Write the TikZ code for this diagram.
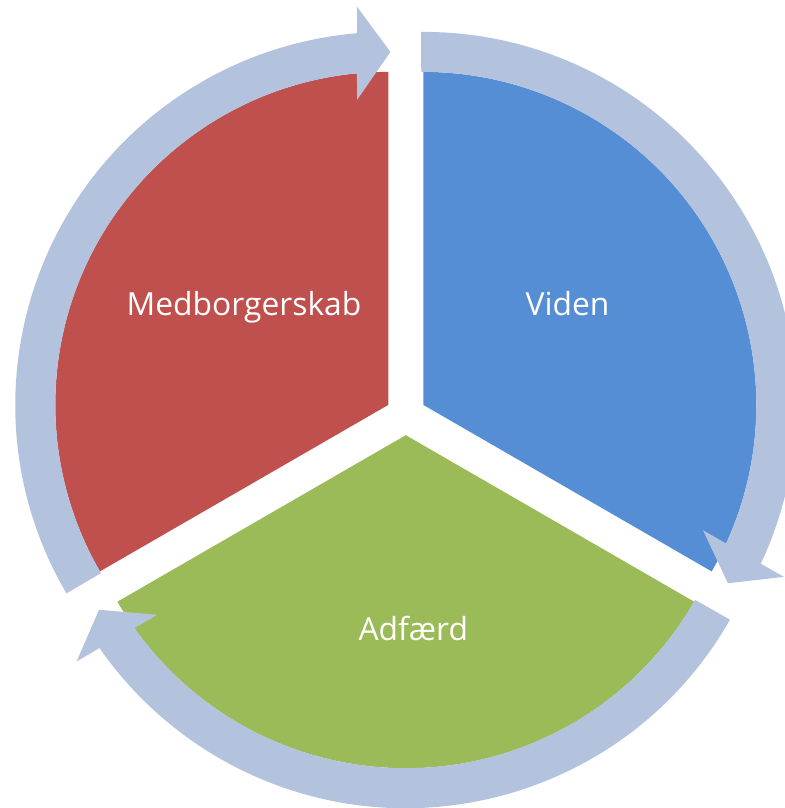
\documentclass[tikz,border=0pt]{standalone}
\usepackage{fontspec}
\setmainfont{Open Sans}
\definecolor{redc}{HTML}{C0504D}
\definecolor{bluec}{HTML}{558ED5}
\definecolor{greenc}{HTML}{9BBB59}
\definecolor{ringc}{HTML}{B3C3DE}
\newcommand\cycarrow[3]{%
  \begin{scope}[shift={(#1,#2)}]
    \fill[ringarrow] (#3:373) arc[start angle=#3, end angle=#3-115.55, radius=373]
      -- (#3-115.85:399.5) -- (#3-120.7:353) -- (#3-114.5:306.6)
      -- (#3-114.95:333) arc[start angle=#3-114.95, end angle=#3, radius=333] -- cycle;
  \end{scope}}
\begin{document}
\begin{tikzpicture}[x=0.5pt,y=0.5pt,
  ringarrow/.style={fill=ringc},
  label/.style={text=white,font=\fontsize{15.9}{19}\selectfont,anchor=base,inner sep=0pt}]
\useasboundingbox (0,0) rectangle (784,808);
% pie segments
\coordinate (cr) at (388.3,403.1);
\coordinate (cb) at (423.3,403.1);
\coordinate (cg) at (405.8,372.8);
\fill[redc] (cr) -- ++(90:333) arc[start angle=90,end angle=210,radius=333] -- cycle;
\fill[bluec] (cb) -- ++(-30:333) arc[start angle=-30,end angle=90,radius=333] -- cycle;
\fill[greenc] (cg) -- ++(210:333) arc[start angle=210,end angle=330,radius=333] -- cycle;
% circular arrows
\cycarrow{423.3}{403.1}{90.35}
\cycarrow{405.8}{372.8}{-29.65}
\cycarrow{388.3}{403.1}{210.35}
% labels
\node[label] (med) at (244,492) {Medborgerskab};
\node[label] (vid) at (567.5,492) {Viden};
\node[label] (adf) at (413.3,167) {Adfærd};
\end{tikzpicture}
\end{document}
